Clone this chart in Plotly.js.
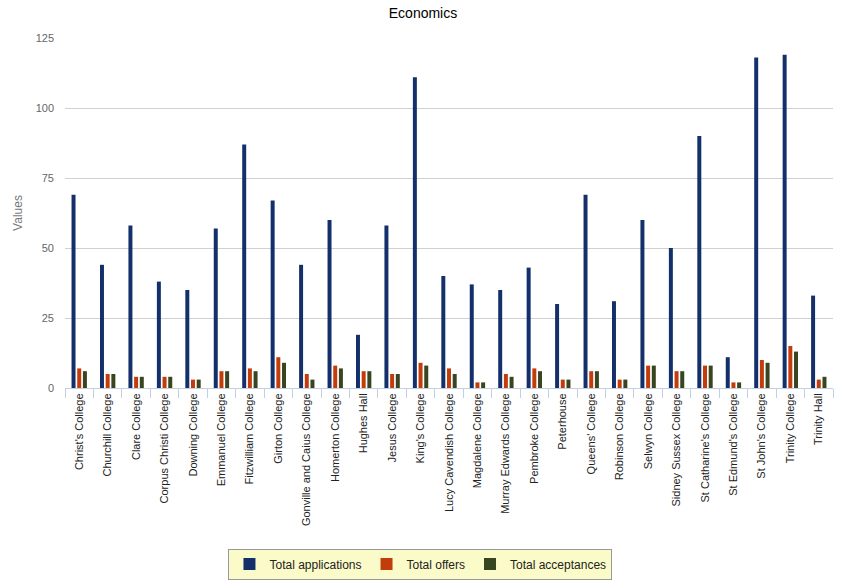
<!DOCTYPE html>
<html>
<head>
<meta charset="utf-8">
<script src="https://cdn.plot.ly/plotly-3.0.1.min.js"></script>
<style>html,body{margin:0;padding:0;background:#fff;}#chart{width:846px;height:587px;}</style>
</head>
<body>
<div id="chart"></div>
<script>
const colleges = ["Christ's College","Churchill College","Clare College","Corpus Christi College","Downing College","Emmanuel College","Fitzwilliam College","Girton College","Gonville and Caius College","Homerton College","Hughes Hall","Jesus College","King's College","Lucy Cavendish College","Magdalene College","Murray Edwards College","Pembroke College","Peterhouse","Queens' College","Robinson College","Selwyn College","Sidney Sussex College","St Catharine's College","St Edmund's College","St John's College","Trinity College","Trinity Hall"];
const applications = [69,44,58,38,35,57,87,67,44,60,19,58,111,40,37,35,43,30,69,31,60,50,90,11,118,119,33];
const offers =       [7,5,4,4,3,6,7,11,5,8,6,5,9,7,2,5,7,3,6,3,8,6,8,2,10,15,3];
const acceptances =  [6,5,4,4,3,6,6,9,3,7,6,5,8,5,2,4,6,3,6,3,8,6,8,2,9,13,4];
const seriesNames = ["Total applications","Total offers","Total acceptances"];
const yTicks = [0,25,50,75,100,125];

const colors = ["#13306a","#c23d0b","#374520"];
const data = [applications, offers, acceptances].map((vals, i) => ({
  type: 'bar', name: seriesNames[i], x: colleges, y: vals,
  marker: {color: colors[i]}, hoverinfo: 'x+y'
}));

const layout = {
  width: 846, height: 587,
  margin: {l: 65, r: 13, t: 38, b: 199, autoexpand: false},
  paper_bgcolor: '#fff', plot_bgcolor: '#fff',
  font: {family: 'Liberation Sans, Arial, sans-serif', size: 11, color: '#333'},
  title: {text: 'Economics', x: 0.5, xanchor: 'center', y: 0.977, yanchor: 'middle', font: {size: 14, color: '#000'}},
  barmode: 'group', bargap: 0.4, bargroupgap: 0.3,
  xaxis: {
    type: 'category', tickangle: -90, tickfont: {size: 11, color: '#222'},
    ticks: 'outside', tickson: 'boundaries', ticklen: 9, tickcolor: '#c0d0e0',
    showline: true, linecolor: '#c0d0e0', linewidth: 1, showgrid: false, automargin: false
  },
  yaxis: {
    range: [0, 125], tickvals: yTicks, ticktext: yTicks.map(String),
    showgrid: true, gridcolor: '#d0d0d0', zeroline: false, showline: false,
    tickfont: {size: 11, color: '#666'}, ticklabelstandoff: 10, automargin: false,
    title: {text: 'Values', font: {size: 12, color: '#777'}, standoff: 10}
  },
  legend: {
    orientation: 'h', xref: 'container', yref: 'container', x: 0.497, xanchor: 'center', y: 0.039, yanchor: 'middle',
    bgcolor: '#fbfbc9', bordercolor: '#999', borderwidth: 1,
    font: {size: 12, color: '#222'}, traceorder: 'normal'
  },
  showlegend: true
};
Plotly.newPlot('chart', data, layout, {displayModeBar: false});
</script>
</body>
</html>
